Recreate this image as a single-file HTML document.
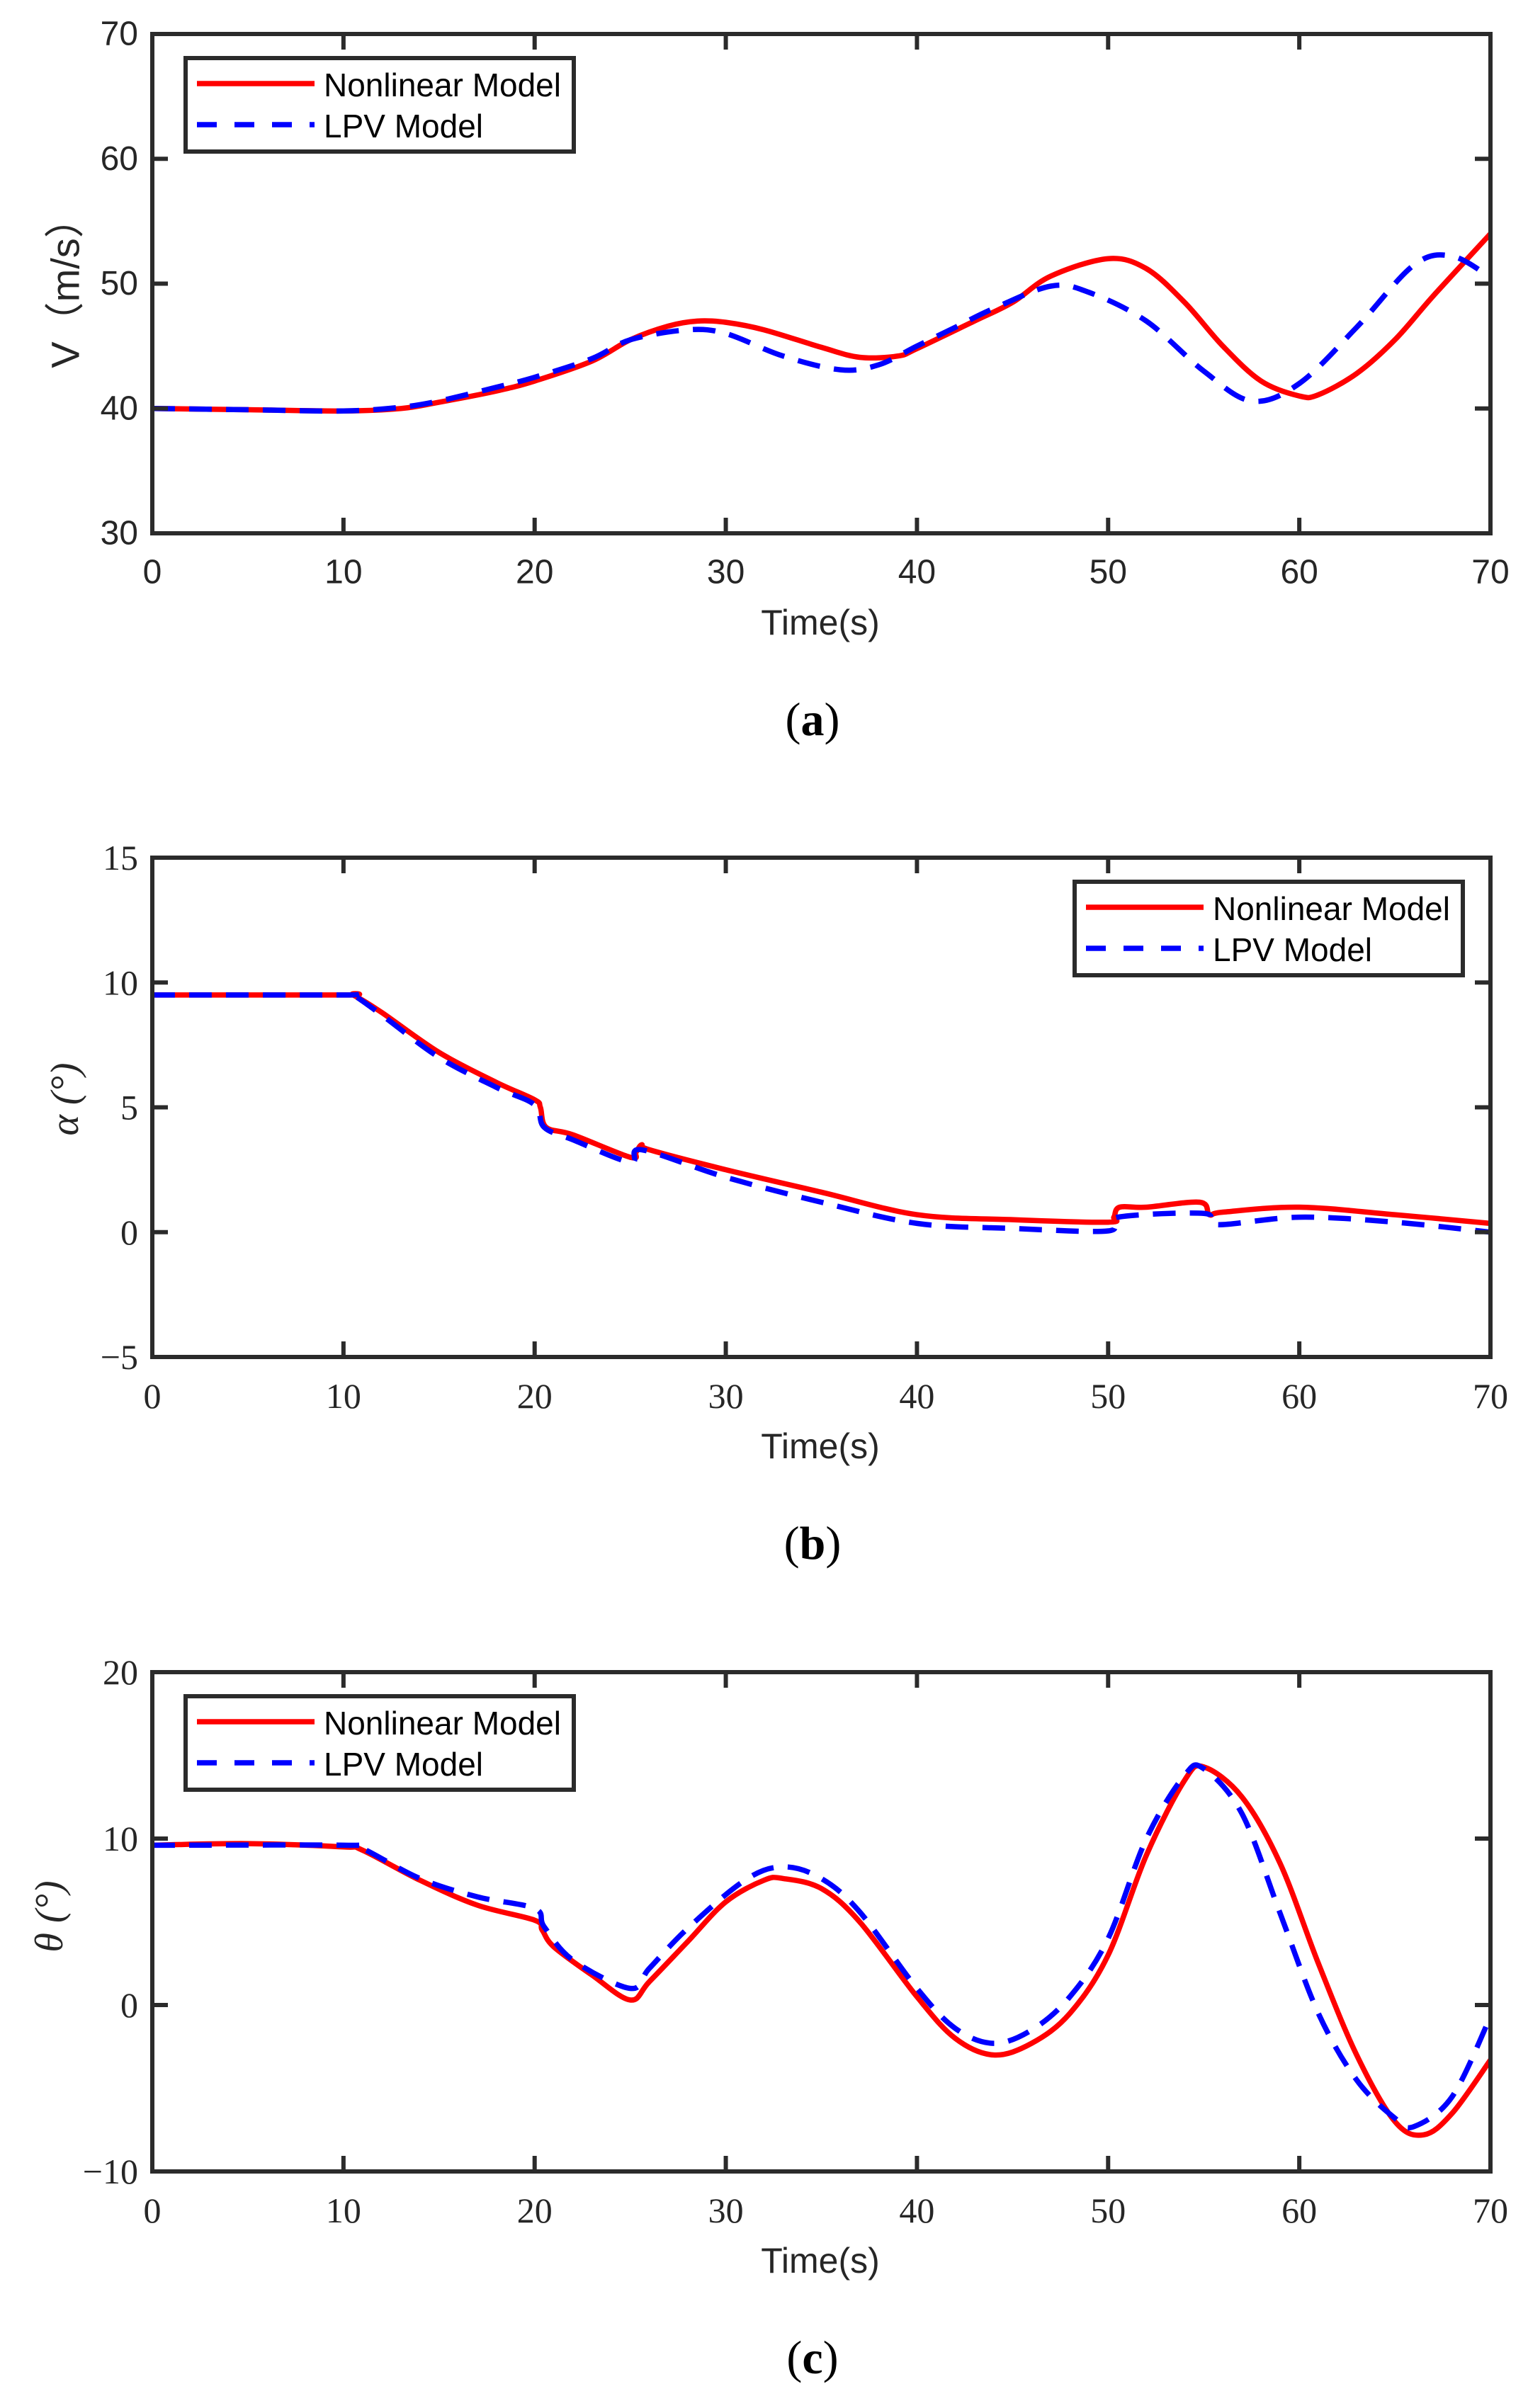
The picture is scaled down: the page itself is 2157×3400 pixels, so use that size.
<!DOCTYPE html>
<html><head><meta charset="utf-8"><style>
html,body{margin:0;padding:0;background:#fff;}
svg{display:block;}
</style></head><body>
<svg id="fig" xmlns="http://www.w3.org/2000/svg" width="2157" height="3400" viewBox="0 0 2157 3400"></svg>
<script>
// ---- data: panel (a) velocity ----
const aNonT = [0,5,10,13,15,18,20,23,25,27,28.5,30,32,35,37,39,40,43,45,47,50,52,54,56,58,60,61,63,65,67,70];
const aNonV = [40,39.9,39.8,40,40.5,41.4,42.2,43.8,45.5,46.6,47,46.9,46.3,44.9,44.1,44.2,44.8,47,48.5,50.6,52,51.2,48.5,45,42.2,41,41.1,42.8,45.5,49,54];
const aLpvT = [0,5,10,13,15,18,20,23,25,28,30,33,36,38,40,42,44,47,49,52,55,57.5,60,63,66,68,70];
const aLpvV = [40,39.9,39.8,40.1,40.6,41.7,42.5,44,45.5,46.3,46,44.2,43.1,43.5,45,46.5,48,49.8,49.3,47,43,40.6,42,46.5,51.5,52.2,50.5];
// ---- data: panel (b) angle of attack ----
const bNonT = [0,10,10.5,12,15,18,20,20.3,20.6,22,25,25.3,25.6,26,30,35,40,45,50,50.3,50.6,52,54.8,55.3,56,60,65,70];
const bNonV = [9.5,9.5,9.5,8.8,7.2,6,5.3,5.0,4.2,3.9,3.0,3.2,3.5,3.3,2.5,1.6,0.7,0.5,0.4,0.6,1.0,1.0,1.2,0.7,0.8,1.0,0.7,0.35];
const bLpvT = [0,10,10.5,12,15,18,20,20.5,22,25,25.6,30,35,40,45,50,50.5,55,55.7,60,65,70];
const bLpvV = [9.5,9.5,9.5,8.7,7.0,5.8,5.1,4.2,3.7,2.8,3.3,2.2,1.2,0.35,0.15,0.05,0.6,0.75,0.3,0.6,0.4,0.0];
// ---- data: panel (c) pitch angle ----
const cNonT = [0,5,10,11,14,17,20,20.4,21,23,25,26,28,30,32,33,35,37,40,42,44,46,48,50,52,54,55,57,59,61,63,65,66.5,68,70];
const cNonV = [9.6,9.7,9.5,9.3,7.5,6,5.1,4.5,3.5,1.8,0.3,1.4,3.8,6.2,7.5,7.6,7,5,0.5,-2,-3,-2.3,-0.5,3,9,13.5,14.3,12.5,8.5,2.5,-3,-7,-7.8,-6.5,-3.3];
const cLpvT = [0,10,11,14,17,20,20.5,22,25,26,28,31,33,35,37,40,42,44,46,48,50,52,54,55,57,59,61,63,65,66,68,70];
const cLpvV = [9.6,9.6,9.4,7.6,6.5,5.8,4.7,2.7,1.0,2.2,4.6,7.5,8.3,7.6,5.6,1.0,-1.4,-2.3,-1.5,0.5,4,10,13.8,14.2,11.5,5.5,-0.5,-4.5,-6.8,-7.3,-5.5,-0.7];
// ---- ticks ----
const xTicks = [0,10,20,30,40,50,60,70];
const aYTicks = [30,40,50,60,70];
const bYTicks = [-5,0,5,10,15];
const cYTicks = [-10,0,10,20];
const bYLabels = ["\u22125","0","5","10","15"];
const cYLabels = ["\u221210","0","10","20"];

const NS="http://www.w3.org/2000/svg";
const svg=document.getElementById('fig');
function mk(tag,attrs,parent){const e=document.createElementNS(NS,tag);for(const k in attrs)e.setAttribute(k,attrs[k]);(parent||svg).appendChild(e);return e;}

function path(xs,ys,sx,sy){
  const P=xs.map((t,i)=>[sx(t),sy(ys[i])]);
  let d='M'+P[0][0].toFixed(1)+','+P[0][1].toFixed(1);
  for(let i=0;i<P.length-1;i++){
    const p0=P[Math.max(0,i-1)],p1=P[i],p2=P[i+1],p3=P[Math.min(P.length-1,i+2)];
    const c1=[p1[0]+(p2[0]-p0[0])/6,p1[1]+(p2[1]-p0[1])/6];
    const c2=[p2[0]-(p3[0]-p1[0])/6,p2[1]-(p3[1]-p1[1])/6];
    d+=' C'+c1[0].toFixed(1)+','+c1[1].toFixed(1)+' '+c2[0].toFixed(1)+','+c2[1].toFixed(1)+' '+p2[0].toFixed(1)+','+p2[1].toFixed(1);
  }
  return d;
}

function panel(cfg){
  const L=215,R=2104,T=cfg.top,B=cfg.top+705;
  const g=mk('g',{});
  
  
  const sx=t=>L+(t-0)/70*(R-L);
  const sy=v=>B-(v-cfg.ymin)/(cfg.ymax-cfg.ymin)*(B-T);
  const font=cfg.serif?'"Liberation Serif", serif':'"Liberation Sans", sans-serif';
  const cid='clip'+cfg.id;
  const cp=mk('clipPath',{id:cid},g);mk('rect',{x:L,y:T,width:R-L,height:B-T},cp);
  const red=mk('path',{d:path(cfg.nT,cfg.nV,sx,sy),fill:'none',stroke:'#ff0000','stroke-width':7.5,'stroke-linejoin':'round','clip-path':'url(#'+cid+')'},g);
  
  
  const blue=mk('path',{d:path(cfg.lT,cfg.lV,sx,sy),fill:'none',stroke:'#0000ff','stroke-width':7.5,'stroke-dasharray':'32 20','clip-path':'url(#'+cid+')'},g);
  
  
  const box=mk('rect',{x:L,y:T,width:R-L,height:B-T,fill:'none',stroke:'#2b2b2b','stroke-width':6},g);
  
  
  xTicks.forEach(t=>{
    const x=sx(t);
    mk('line',{x1:x,y1:B,x2:x,y2:B-22,stroke:'#2b2b2b','stroke-width':6},g);
    mk('line',{x1:x,y1:T,x2:x,y2:T+22,stroke:'#2b2b2b','stroke-width':6},g);
    const tx=mk('text',{x:x,y:cfg.top+760,'font-family':font,'font-size':cfg.serif?50:48,fill:'#262626','text-anchor':'middle','dominant-baseline':'central'},g);
    tx.textContent=t;
    
    
  });
  cfg.yT.forEach((v,i)=>{
    const y=sy(v);
    mk('line',{x1:L,y1:y,x2:L+22,y2:y,stroke:'#2b2b2b','stroke-width':6},g);
    mk('line',{x1:R,y1:y,x2:R-22,y2:y,stroke:'#2b2b2b','stroke-width':6},g);
    const ty=mk('text',{x:195,y:y,'font-family':font,'font-size':cfg.serif?50:48,fill:'#262626','text-anchor':'end','dominant-baseline':'central'},g);
    ty.textContent=cfg.yL?cfg.yL[i]:v;
    
    
  });
  const xt=mk('text',{x:1158,y:cfg.top+831,'font-family':'"Liberation Sans", sans-serif','font-size':50,fill:'#262626','text-anchor':'middle','dominant-baseline':'central'},g);
  xt.textContent='Time(s)';
  
  
  const yt=mk('text',{x:0,y:0,transform:'translate('+cfg.yx+','+cfg.yy+') rotate(-90)','font-family':cfg.yfont,'font-size':56,fill:'#262626','text-anchor':'middle','dominant-baseline':'central','font-style':cfg.yital?'italic':'normal'},g);
  yt.textContent=cfg.ytitle;
  
  
  const lg=mk('g',{},g);
  
  
  const lx=cfg.lx, ly=cfg.top+34;
  mk('rect',{x:lx,y:ly,width:548,height:132,fill:'#fff',stroke:'#2b2b2b','stroke-width':6},lg);
  const e1=mk('g',{},lg);
  
  
  mk('line',{x1:lx+16,y1:ly+36,x2:lx+182,y2:ly+36,stroke:'#ff0000','stroke-width':7.5},e1);
  const t1=mk('text',{x:lx+195,y:ly+38,'font-family':'"Liberation Sans", sans-serif','font-size':46,fill:'#000','dominant-baseline':'central','textLength':335},e1);
  t1.textContent='Nonlinear Model';
  const e2=mk('g',{},lg);
  
  
  mk('line',{x1:lx+16,y1:ly+94,x2:lx+182,y2:ly+94,stroke:'#0000ff','stroke-width':7.5,'stroke-dasharray':'28 25'},e2);
  const t2=mk('text',{x:lx+195,y:ly+96,'font-family':'"Liberation Sans", sans-serif','font-size':46,fill:'#000','dominant-baseline':'central'},e2);
  t2.textContent='LPV Model';
  const cap=mk('text',{x:1147,y:cfg.top+968,'font-family':'"Liberation Serif", serif','font-size':66,fill:'#000','text-anchor':'middle','dominant-baseline':'central'},g);
  cap.innerHTML='(<tspan font-weight="bold">'+cfg.id+'</tspan>)';
  
  
}

panel({id:'a',name:'panel-a-velocity',top:48,ymin:30,ymax:70,yT:aYTicks,nT:aNonT,nV:aNonV,lT:aLpvT,lV:aLpvV,serif:false,
  ytitle:'V（m/s）',yfont:'"Liberation Sans", "Noto Sans CJK SC", sans-serif',yx:92,yy:400,lx:262});
panel({id:'b',name:'panel-b-alpha',top:1211,ymin:-5,ymax:15,yT:bYTicks,yL:bYLabels,nT:bNonT,nV:bNonV,lT:bLpvT,lV:bLpvV,serif:true,
  ytitle:'α (°)',yfont:'"Liberation Serif", serif',yital:true,yx:92,yy:1552,lx:1517});
panel({id:'c',name:'panel-c-theta',top:2361,ymin:-10,ymax:20,yT:cYTicks,yL:cYLabels,nT:cNonT,nV:cNonV,lT:cLpvT,lV:cLpvV,serif:true,
  ytitle:'θ (°)',yfont:'"Liberation Serif", serif',yital:true,yx:70,yy:2706,lx:262});
</script>
</body></html>
